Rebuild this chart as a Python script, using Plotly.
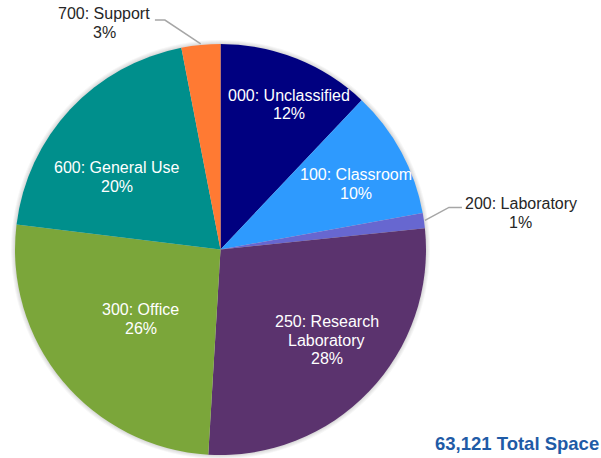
import math
import plotly.graph_objects as go

# Space inventory by room-use category (square feet)
categories = ["000: Unclassified", "100: Classroom", "200: Laboratory",
              "250: Research Laboratory", "300: Office", "600: General Use",
              "700: Support"]
label_lines = [["000: Unclassified"], ["100: Classroom"], ["200: Laboratory"],
               ["250: Research", "Laboratory"], ["300: Office"],
               ["600: General Use"], ["700: Support"]]
square_feet = [7606, 6375, 757, 17421, 16411, 12624, 1927]
colors = ["#000080", "#2E9AFE", "#6767D0", "#5B336E", "#7BA63A", "#008F8C", "#FF7A33"]

W, H = 601, 458
FONT = "Arial, Liberation Sans, sans-serif"


def px(x):
    return x / W


def py(y):
    return 1 - y / H


# pie geometry (pixels)
dom_x = (13, 428)
dom_y = (44, 455)
cx = (dom_x[0] + dom_x[1]) / 2
cy = (dom_y[0] + dom_y[1]) / 2
R = min(dom_x[1] - dom_x[0], dom_y[1] - dom_y[0]) / 2

total = sum(square_feet)
shares = [v / total for v in square_feet]
mid_angles = []
acc = 0.0
for s in shares:
    mid_angles.append((acc + s / 2) * 360)
    acc += s

fig = go.Figure()
fig.add_trace(go.Pie(
    labels=categories,
    values=square_feet,
    marker=dict(colors=colors, line=dict(width=0)),
    sort=False,
    direction="clockwise",
    rotation=0,
    textinfo="none",
    hovertemplate="%{label}<br>%{value:,} sq ft<br>%{percent}<extra></extra>",
    domain=dict(x=[px(dom_x[0]), px(dom_x[1])], y=[py(dom_y[1]), py(dom_y[0])]),
    showlegend=False,
))

annotations = []
shapes = []

# soft shadow around the pie
for k in range(1, 5):
    shapes.append(dict(type="circle", xref="paper", yref="paper", layer="below",
                       x0=px(cx - R - k), x1=px(cx + R + k),
                       y0=py(cy + R + k), y1=py(cy - R - k),
                       fillcolor="rgba(0,0,0,0.035)", line=dict(width=0)))

LINE_GAP = 18.5


def add_block(lines, x, y, color):
    n = len(lines)
    for i, t in enumerate(lines):
        annotations.append(dict(
            x=px(x), y=py(y + (i - (n - 1) / 2) * LINE_GAP),
            xref="paper", yref="paper", text=t, showarrow=False,
            xanchor="center", yanchor="middle",
            font=dict(family=FONT, size=16, color=color)))


# labels drawn inside their slices: (index, radial fraction, angle nudge in degrees)
inside = [(0, 0.78, 3.6), (1, 0.73, 2.6), (3, 0.68, -3.2), (4, 0.515, -1.4), (5, 0.615, -7.9)]
for i, frac, nudge in inside:
    a = math.radians(mid_angles[i] + nudge)
    x = cx + frac * R * math.sin(a)
    y = cy - frac * R * math.cos(a)
    add_block(label_lines[i] + [f"{round(shares[i] * 100)}%"], x, y, "white")

# small slices get labels outside with elbow leader lines:
# (index, elbow offset from edge, horizontal run, label centre offset from line end)
outside = [(2, (24, -13), 13, (59, 5.5)), (6, (-35.8, -23.9), -10, (-50.5, 3))]
for i, (ex, ey), run, (lx, ly) in outside:
    a = math.radians(mid_angles[i])
    x0 = cx + (R + 1) * math.sin(a)
    y0 = cy - (R + 1) * math.cos(a)
    x1, y1 = x0 + ex, y0 + ey
    x2 = x1 + run
    shapes.append(dict(type="path", xref="paper", yref="paper", layer="above",
                       path=f"M {px(x0)},{py(y0)} L {px(x1)},{py(y1)} L {px(x2)},{py(y1)}",
                       line=dict(color="#A6A6A6", width=1.5)))
    add_block(label_lines[i] + [f"{round(shares[i] * 100)}%"], x2 + lx, y1 + ly, "#262626")

# total space caption
annotations.append(dict(
    x=1, y=py(443), xref="paper", yref="paper",
    text=f"<b>{total:,} Total Space</b>", showarrow=False,
    xanchor="right", yanchor="middle",
    font=dict(family=FONT, size=18.5, color="#1F5BA6")))

fig.update_layout(
    width=W, height=H,
    margin=dict(l=0, r=0, t=0, b=0),
    paper_bgcolor="white", plot_bgcolor="white",
    annotations=annotations, shapes=shapes,
)

fig.write_html("out.html")
